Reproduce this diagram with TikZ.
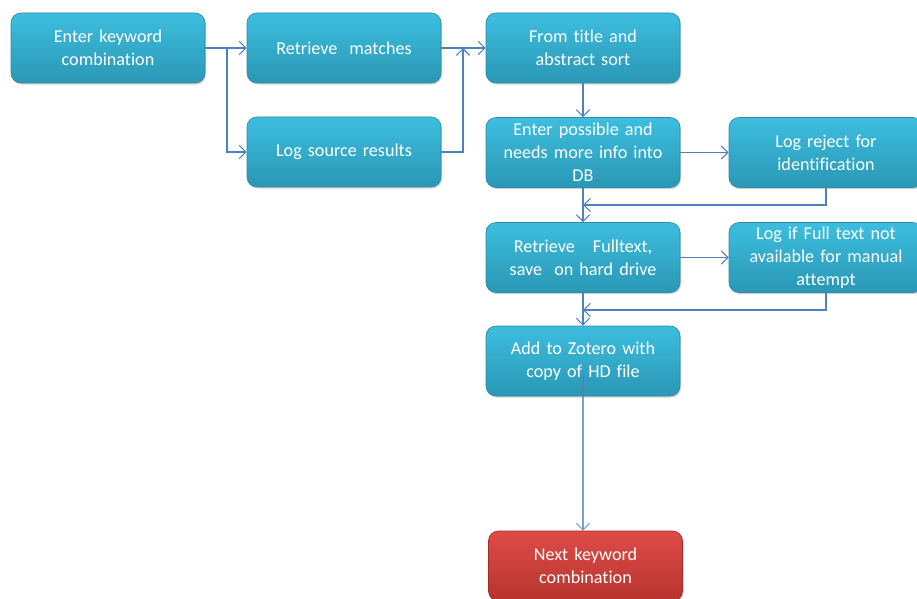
\documentclass[tikz,border=0pt]{standalone}
\usepackage{fontspec}
\setmainfont[Ligatures={NoCommon,NoRare},Contextuals=NoAlternate]{Carlito}
\usetikzlibrary{arrows.meta,shadows}
\definecolor{boxtop}{HTML}{3DBEDF}
\definecolor{boxbot}{HTML}{2A97B5}
\definecolor{boxedge}{HTML}{2B8CA8}
\definecolor{redtop}{HTML}{DE4B47}
\definecolor{redbot}{HTML}{B7342F}
\definecolor{rededge}{HTML}{A02C28}
\definecolor{lineblue}{HTML}{4F81BD}
\begin{document}
\begin{tikzpicture}[x=0.75pt,y=-0.75pt,
  box/.style={rectangle, rounded corners=7.5pt, minimum width=145.5pt, minimum height=52.5pt,
    top color=boxtop, bottom color=boxbot, draw=boxedge, line width=0.5pt,
    text=white, align=center, text width=140pt, inner sep=1pt,
    font=\fontsize{13.6}{17.2}\selectfont,
    drop shadow={shadow xshift=0.8pt, shadow yshift=-1.2pt, opacity=0.35}},
  redbox/.style={box, top color=redtop, bottom color=redbot, draw=rededge},
  conn/.style={draw=lineblue, line width=0.8pt, -{Straight Barb[length=5pt,width=10pt]}}]
\fill[white] (0,0) rectangle (917,599);
\useasboundingbox (0,0) rectangle (917,599);
\node[box] (k1) at (108,48) {Enter keyword\\combination};
\node[box] (rm) at (344,48) {Retrieve\ \ matches};
\node[box] (ls) at (344,152) {Log source results};
\node[box] (ft) at (583,48) {From title and\\abstract sort};
\node[box] (ep) at (583,152.5) {Enter possible and\\needs more info into\\DB};
\node[box] (lr) at (826,152.5) {Log reject for\\identification};
\node[box] (rf) at (583,257.5) {Retrieve\ \ \ Fulltext,\\save\ \ on hard drive};
\node[box] (lf) at (826,257.5) {Log if Full text not\\available for manual\\attempt};
\node[box] (zo) at (583,361) {Add to Zotero with\\copy of HD file};
\node[redbox] (nk) at (585.5,566) {Next keyword\\combination};
\coordinate (b1) at (227,48);
\coordinate (b2) at (463,48);
\coordinate (m1) at (583,205);
\coordinate (m2) at (583,310);
\draw[conn] (k1.east) -- (rm.west);
\draw[conn] (b1) |- (ls.west);
\draw[conn] (rm.east) -- (ft.west);
\draw[conn] (ls.east) -| (b2);
\draw[conn] (ft.south) -- (ep.north);
\draw[conn] (ep.east) -- (lr.west);
\draw[conn] (ep.south) -- (rf.north);
\draw[conn] (lr.south) |- (m1);
\draw[conn] (rf.east) -- (lf.west);
\draw[conn] (rf.south) -- (zo.north);
\draw[conn] (lf.south) |- (m2);
\draw[conn, draw opacity=0.75] ([yshift=-10.5pt]zo.center) -- (zo.south |- nk.north);
\end{tikzpicture}
\end{document}
